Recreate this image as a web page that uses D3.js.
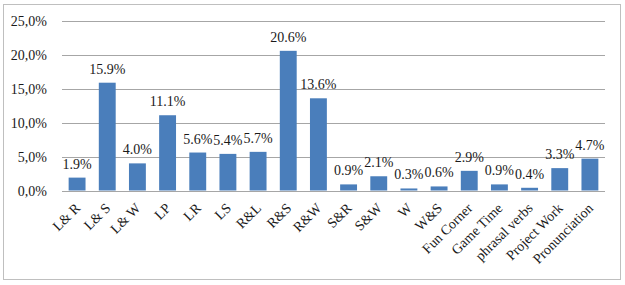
<!DOCTYPE HTML>
<html>
  <head>
    <title>Activity types</title>
    <style>
      html, body { margin: 0; padding: 0; background: #fff; }
      svg { display: block; }
    </style>
  </head>
  <body>
    <svg width="625" height="285"></svg>
    <script src="https://d3js.org/d3.v7.min.js"></script>
    <script>
      var categories = ['L& R', 'L& S', 'L& W', 'LP', 'LR', 'LS', 'R&L', 'R&S', 'R&W', 'S&R', 'S&W', 'W', 'W&S',
        'Fun Corner', 'Game Time', 'phrasal verbs', 'Project Work', 'Pronunciation'];
      var values = [1.9, 15.9, 4.0, 11.1, 5.6, 5.4, 5.7, 20.6, 13.6, 0.9, 2.1, 0.3, 0.6, 2.9, 0.9, 0.4, 3.3, 4.7];
      var yTicks = [0, 5, 10, 15, 20, 25];

      var svg = d3.select('svg');
      var font = '"Liberation Serif", "Times New Roman", serif';

      // chart frame
      svg.append('rect')
        .attr('x', 3.5).attr('y', 4.5)
        .attr('width', 617).attr('height', 275)
        .attr('fill', '#fff').attr('stroke', '#bfbfbf');

      var xScale = d3.scaleBand().domain(categories).range([62, 605]).paddingInner(0.44).paddingOuter(0.22);
      var yScale = d3.scaleLinear().domain([0, 25]).range([190.5, 21]);

      // gridlines
      svg.append('g')
        .selectAll('line')
        .data(yTicks)
        .enter()
        .append('line')
          .attr('x1', 62).attr('x2', 605)
          .attr('y1', function(d) { return Math.round(yScale(d)) + 0.5; })
          .attr('y2', function(d) { return Math.round(yScale(d)) + 0.5; })
          .attr('stroke', '#a6a6a6');

      // y labels
      svg.append('g')
        .selectAll('text')
        .data(yTicks)
        .enter()
        .append('text')
          .attr('x', 47)
          .attr('y', function(d) { return yScale(d) + 5; })
          .attr('text-anchor', 'end')
          .attr('font-family', font)
          .attr('font-size', 14)
          .attr('fill', '#1a1a1a')
          .text(function(d) { return d.toFixed(1).replace('.', ',') + '%'; });

      // bars
      svg.append('g')
        .selectAll('rect')
        .data(values)
        .enter()
        .append('rect')
          .attr('x', function(d, i) { return xScale(categories[i]); })
          .attr('width', xScale.bandwidth())
          .attr('y', function(d) { return yScale(d); })
          .attr('height', function(d) { return yScale(0) - yScale(d); })
          .attr('fill', '#4a7ebb');

      // value labels
      svg.append('g')
        .selectAll('text')
        .data(values)
        .enter()
        .append('text')
          .attr('x', function(d, i) { return xScale(categories[i]) + xScale.bandwidth() / 2; })
          .attr('y', function(d) { return yScale(d) - 9; })
          .attr('text-anchor', 'middle')
          .attr('font-family', font)
          .attr('font-size', 14)
          .attr('fill', '#1a1a1a')
          .text(function(d) { return d.toFixed(1) + '%'; });

      // category labels, rotated
      svg.append('g')
        .selectAll('text')
        .data(categories)
        .enter()
        .append('text')
          .attr('transform', function(d) {
            var cx = xScale(d) + xScale.bandwidth() / 2 + 4;
            return 'translate(' + cx + ',209) rotate(-45)';
          })
          .attr('text-anchor', 'end')
          .attr('font-family', font)
          .attr('font-size', 14)
          .attr('fill', '#1a1a1a')
          .text(function(d) { return d; });
    </script>
  </body>
</html>
